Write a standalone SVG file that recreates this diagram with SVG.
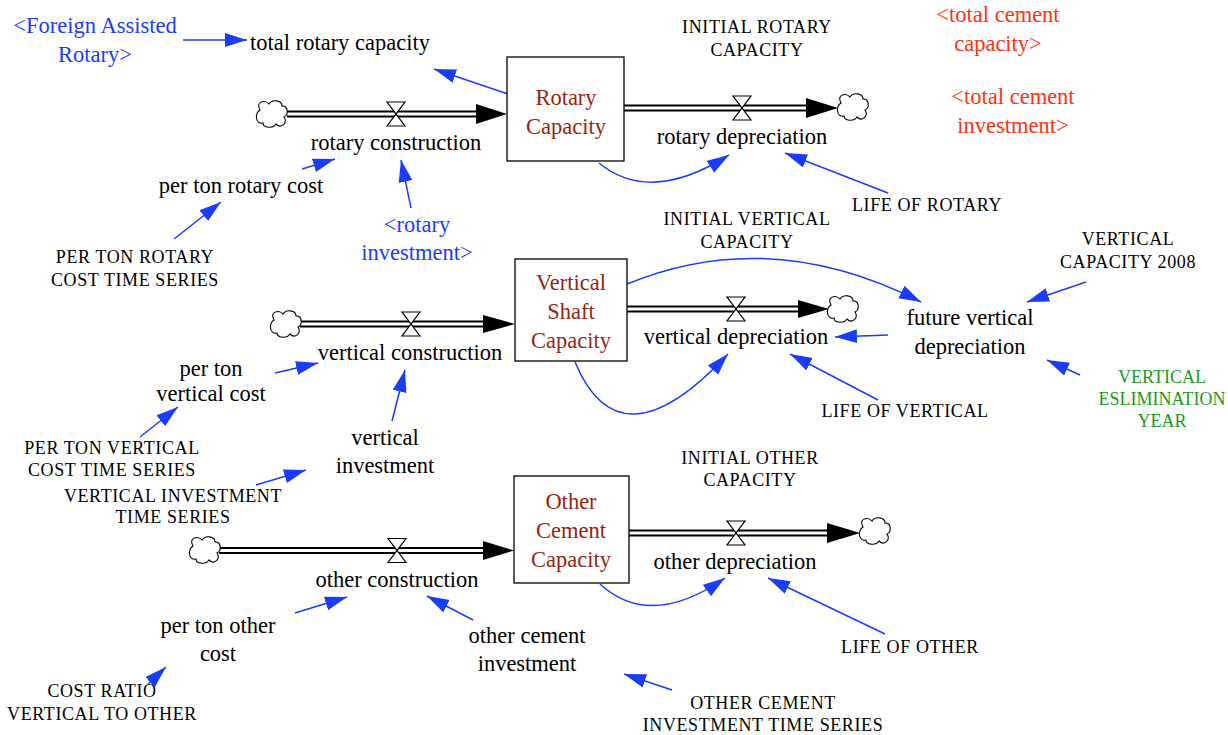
<svg xmlns="http://www.w3.org/2000/svg" width="1228" height="735" viewBox="0 0 1228 735">
<style>
text{font-family:"Liberation Serif","Times New Roman",serif;text-anchor:middle;fill:#000}
.v{font-size:22.5px}
.c{font-size:18px;letter-spacing:0.6px}
.blue{fill:#1a3cff}
.red{fill:#ff3311}
.green{fill:#1a9a1a;letter-spacing:0}
.stk{fill:#9a1f10;font-size:22.5px}
.box{fill:#fff;stroke:#000;stroke-width:1.3}
.po{stroke:#000;stroke-width:7;fill:none}
.pi{stroke:#fff;stroke-width:3;fill:none}
.ah{fill:#000}
.valve{fill:#fff;stroke:#000;stroke-width:1.2}
.cloud{fill:#fff;stroke:#000;stroke-width:1.1}
.lk{stroke:#1a3cff;stroke-width:1.5;fill:none;marker-end:url(#a)}
</style>
<defs>
<marker id="a" markerUnits="userSpaceOnUse" markerWidth="24" markerHeight="16" refX="22" refY="7" orient="auto">
<path d="M0,0 L22,7 L0,14 Z" fill="#1a3cff"/>
</marker>
<path id="cl" class="cloud" d="M-12,-4 C-17,-12 -7,-15 -3,-10 C0,-15 10,-14 10,-8 C16,-9 17,1 12,3 C16,9 9,15 4,10 C1,15 -9,14 -9,9 C-16,11 -18,0 -12,-4 Z"/>
<path id="vl" class="valve" d="M-9,-12 H9 L-9,12 H9 Z"/>
</defs>

<g id="connectors">
<g id="flow-rotary-construction">
<line class="po" x1="287" y1="114" x2="478" y2="114"/><line class="pi" x1="285" y1="114" x2="478" y2="114"/>
<polygon class="ah" points="476,104 507,114 476,124"/>
</g>
<g id="flow-rotary-depreciation">
<line class="po" x1="624" y1="108" x2="808" y2="108"/><line class="pi" x1="624" y1="108" x2="808" y2="108"/>
<polygon class="ah" points="806,98 838,108 806,118"/>
</g>
<g id="flow-vertical-construction">
<line class="po" x1="300" y1="324" x2="485" y2="324"/><line class="pi" x1="298" y1="324" x2="485" y2="324"/>
<polygon class="ah" points="483,315 515,324 483,333"/>
</g>
<g id="flow-vertical-depreciation">
<line class="po" x1="627" y1="309" x2="800" y2="309"/><line class="pi" x1="627" y1="309" x2="800" y2="309"/>
<polygon class="ah" points="798,300 829,309 798,318"/>
</g>
<g id="flow-other-construction">
<line class="po" x1="219" y1="550.5" x2="485" y2="550.5"/><line class="pi" x1="217" y1="550.5" x2="485" y2="550.5"/>
<polygon class="ah" points="483,541 514,550.5 483,560"/>
</g>
<g id="flow-other-depreciation">
<line class="po" x1="629" y1="533" x2="829" y2="533"/><line class="pi" x1="629" y1="533" x2="829" y2="533"/>
<polygon class="ah" points="827,523 860,533 827,543"/>
</g>
<line class="lk" x1="183" y1="40" x2="247" y2="40"/>
<line class="lk" x1="508" y1="94" x2="434" y2="69"/>
<path class="lk" d="M599,163 Q650,205 729,155"/>
<line class="lk" x1="888" y1="193" x2="785" y2="153"/>
<line class="lk" x1="302" y1="169" x2="335" y2="159"/>
<line class="lk" x1="174" y1="239" x2="221" y2="202"/>
<line class="lk" x1="411" y1="208" x2="401" y2="160"/>
<path class="lk" d="M627,284 Q770,225 921,302"/>
<line class="lk" x1="888" y1="335" x2="835" y2="337"/>
<line class="lk" x1="1086" y1="282" x2="1027" y2="302"/>
<line class="lk" x1="1080" y1="375" x2="1047" y2="360"/>
<line class="lk" x1="878" y1="400" x2="790" y2="354"/>
<path class="lk" d="M575,362 Q620,470 728,354"/>
<line class="lk" x1="275" y1="373" x2="318" y2="363"/>
<line class="lk" x1="140" y1="437" x2="178" y2="407"/>
<line class="lk" x1="392" y1="421" x2="405" y2="370"/>
<line class="lk" x1="256" y1="485" x2="306" y2="470"/>
<line class="lk" x1="295" y1="613" x2="347" y2="597"/>
<line class="lk" x1="473" y1="620" x2="427" y2="596"/>
<path class="lk" d="M600,584 Q650,630 725,578"/>
<line class="lk" x1="885" y1="634" x2="768" y2="578"/>
<line class="lk" x1="148" y1="684" x2="166" y2="667"/>
<line class="lk" x1="672" y1="690" x2="624" y2="674"/>
</g>

<g id="clouds">
<use href="#cl" x="272" y="114"/>
<use href="#cl" x="853" y="107"/>
<use href="#cl" x="286" y="324"/>
<use href="#cl" x="843" y="309"/>
<use href="#cl" x="205" y="550"/>
<use href="#cl" x="875" y="531"/>
</g>

<g id="valves">
<use href="#vl" x="396" y="114"/>
<use href="#vl" x="742" y="108"/>
<use href="#vl" x="411" y="324"/>
<use href="#vl" x="736" y="309"/>
<use href="#vl" x="397" y="550.5"/>
<use href="#vl" x="736" y="533"/>
</g>

<g id="rotary-capacity"><rect class="box" x="507" y="57" width="117" height="104"/><text class="stk" x="566" y="105">Rotary</text><text class="stk" x="566" y="134">Capacity</text></g>
<g id="vertical-shaft-capacity"><rect class="box" x="515" y="259" width="112" height="102"/><text class="stk" x="571" y="290">Vertical</text><text class="stk" x="571" y="319">Shaft</text><text class="stk" x="571" y="348">Capacity</text></g>
<g id="other-cement-capacity"><rect class="box" x="514" y="476" width="115" height="107"/><text class="stk" x="571" y="509">Other</text><text class="stk" x="571" y="538">Cement</text><text class="stk" x="571" y="567">Capacity</text></g>

<g id="foreign-assisted-rotary"><text class="v blue" x="95" y="33">&lt;Foreign Assisted</text><text class="v blue" x="95" y="62">Rotary&gt;</text></g>
<g id="total-rotary-capacity"><text class="v" x="340" y="50">total rotary capacity</text></g>
<g id="initial-rotary-capacity"><text class="c" x="757" y="33">INITIAL ROTARY</text><text class="c" x="757" y="56">CAPACITY</text></g>
<g id="total-cement-capacity"><text class="v red" x="998" y="22">&lt;total cement</text><text class="v red" x="998" y="51">capacity&gt;</text></g>
<g id="total-cement-investment"><text class="v red" x="1013" y="104">&lt;total cement</text><text class="v red" x="1013" y="133">investment&gt;</text></g>
<g id="rotary-construction"><text class="v" x="396" y="150">rotary construction</text></g>
<g id="rotary-depreciation"><text class="v" x="742" y="144">rotary depreciation</text></g>
<g id="life-of-rotary"><text class="c" x="927" y="211">LIFE OF ROTARY</text></g>
<g id="per-ton-rotary-cost"><text class="v" x="241" y="193">per ton rotary cost</text></g>
<g id="per-ton-rotary-cost-ts"><text class="c" x="135" y="263">PER TON ROTARY</text><text class="c" x="135" y="286">COST TIME SERIES</text></g>
<g id="rotary-investment"><text class="v blue" x="417" y="232">&lt;rotary</text><text class="v blue" x="417" y="260">investment&gt;</text></g>
<g id="initial-vertical-capacity"><text class="c" x="747" y="225">INITIAL VERTICAL</text><text class="c" x="747" y="248">CAPACITY</text></g>
<g id="vertical-capacity-2008"><text class="c" x="1128" y="245">VERTICAL</text><text class="c" x="1128" y="268">CAPACITY 2008</text></g>
<g id="future-vertical-depreciation"><text class="v" x="970" y="325">future vertical</text><text class="v" x="970" y="354">depreciation</text></g>
<g id="vertical-construction"><text class="v" x="410" y="360">vertical construction</text></g>
<g id="vertical-depreciation"><text class="v" x="736" y="344">vertical depreciation</text></g>
<g id="vertical-elimination-year"><text class="c green" x="1162" y="383">VERTICAL</text><text class="c green" x="1162" y="405">ESLIMINATION</text><text class="c green" x="1162" y="427">YEAR</text></g>
<g id="life-of-vertical"><text class="c" x="905" y="417">LIFE OF VERTICAL</text></g>
<g id="per-ton-vertical-cost"><text class="v" x="211" y="376">per ton</text><text class="v" x="211" y="401">vertical cost</text></g>
<g id="per-ton-vertical-cost-ts"><text class="c" x="112" y="454">PER TON VERTICAL</text><text class="c" x="112" y="476">COST TIME SERIES</text></g>
<g id="vertical-investment"><text class="v" x="385" y="445">vertical</text><text class="v" x="385" y="473">investment</text></g>
<g id="vertical-investment-ts"><text class="c" x="173" y="502">VERTICAL INVESTMENT</text><text class="c" x="173" y="523">TIME SERIES</text></g>
<g id="initial-other-capacity"><text class="c" x="750" y="464">INITIAL OTHER</text><text class="c" x="750" y="486">CAPACITY</text></g>
<g id="other-construction"><text class="v" x="397" y="587">other construction</text></g>
<g id="other-depreciation"><text class="v" x="735" y="569">other depreciation</text></g>
<g id="life-of-other"><text class="c" x="910" y="653">LIFE OF OTHER</text></g>
<g id="per-ton-other-cost"><text class="v" x="218" y="633">per ton other</text><text class="v" x="218" y="661">cost</text></g>
<g id="other-cement-investment"><text class="v" x="527" y="643">other cement</text><text class="v" x="527" y="671">investment</text></g>
<g id="cost-ratio"><text class="c" x="102" y="697">COST RATIO</text><text class="c" x="102" y="720">VERTICAL TO OTHER</text></g>
<g id="other-cement-investment-ts"><text class="c" x="763" y="709">OTHER CEMENT</text><text class="c" x="763" y="731">INVESTMENT TIME SERIES</text></g>
</svg>
